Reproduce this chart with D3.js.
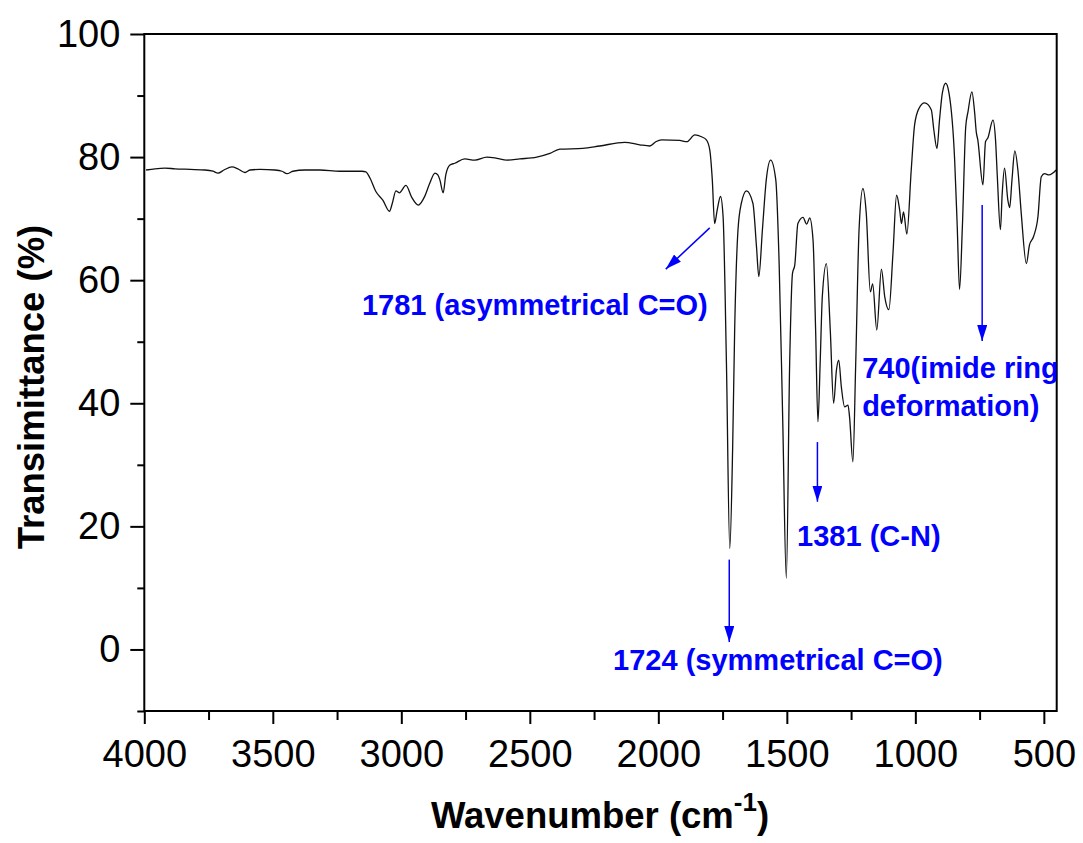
<!DOCTYPE html>
<html>
<head>
<meta charset="utf-8">
<script src="https://cdn.jsdelivr.net/npm/d3@7"></script>
<style>
  html, body { margin: 0; padding: 0; background: #fff; }
  svg { display: block; font-family: "Liberation Sans", Arial, sans-serif; }
</style>
</head>
<body>
<svg id="chart" width="1083" height="843"></svg>
<script>
// ---- data ----
const wavenumber = [3993,3958,3920,3881,3822,3764,3733,3713,3690,3659,3636,3608,3589,3550,3492,3464,3445,3422,3375,3317,3239,3181,3153,3138,3122,3099,3072,3046,3035,3021,3008,2982,2960,2934,2908,2889,2869,2858,2850,2837,2827,2811,2792,2753,2714,2667,2628,2590,2539,2473,2422,2383,2294,2228,2131,2072,2033,2010,1987,1917,1889,1858,1832,1813,1800,1790,1781,1771,1758,1748,1735,1722,1711,1703,1690,1677,1657,1632,1618,1609,1595,1580,1563,1543,1530,1516,1502,1489,1478,1469,1457,1437,1423,1411,1398,1388,1379,1370,1362,1346,1331,1318,1307,1298,1288,1275,1262,1256,1243,1232,1219,1204,1191,1175,1166,1150,1132,1119,1103,1087,1073,1061,1054,1046,1033,1016,1003,986,964,938,928,916,906,895,882,869,847,837,828,817,804,795,780,769,763,757,737,727,718,698,688,681,669,662,653,640,633,624,613,601,588,568,556,540,523,510,497,480,452];
const transmittance = [77.9,78.1,78.2,78.1,78.0,77.9,77.7,77.4,77.9,78.4,78.1,77.5,77.9,78.0,77.9,77.7,77.3,77.7,77.9,77.9,77.7,77.7,77.7,77.6,76.6,74.4,73.0,71.2,72.5,74.5,74.2,75.4,73.5,72.2,73.7,75.8,77.4,77.1,76.3,74.2,77.1,78.7,79.0,79.7,79.5,80.0,79.8,79.5,79.7,80.0,80.6,81.3,81.4,81.8,82.4,82.0,81.8,82.5,82.8,82.7,82.5,83.6,83.3,82.8,81.2,76.3,69.2,71.4,73.6,70.3,46.5,16.4,32.4,51.9,68.2,72.5,74.5,72.5,65.4,60.6,68.2,76.3,79.5,76.3,62.8,37.3,11.6,46.5,61.1,62.5,69.2,70.2,69.1,70.1,66.5,51.9,37.0,47.0,57.3,62.7,51.9,40.0,45.4,47.0,42.7,39.4,39.7,37.8,30.5,46.5,68.2,74.9,70.9,58.1,59.4,51.9,61.8,57.3,55.2,64.4,73.8,71.4,69.2,71.1,67.5,77.9,85.2,87.9,88.8,87.7,84.4,81.4,86.0,90.4,92.0,90.4,79.5,68.7,58.5,68.7,84.9,87.4,90.6,87.1,84.1,82.8,75.5,82.5,83.1,86.0,82.8,76.8,68.2,74.1,78.2,73.0,71.8,76.3,81.0,77.9,70.9,62.7,65.7,67.1,70.3,76.8,77.3,77.1,77.9];

const xMajorTicks = [4000,3500,3000,2500,2000,1500,1000,500];
const xMinorTicks = [3750,3250,2750,2250,1750,1250,750];
const yMajorTicks = [0,20,40,60,80,100];
const yMinorTicks = [-10,10,30,50,70,90];

const xTitle = "Wavenumber (cm";
const xTitleSup = "-1";
const yTitle = "Transimittance (%)";

// annotations: label lines, label anchor (wavenumber, T), arrow from/to (wavenumber, T)
const annoLabels = [
  ["1781 (asymmetrical C=O)"],
  ["1724 (symmetrical C=O)"],
  ["1381 (C-N)"],
  ["740(imide ring", "deformation)"]
];
const annoTextPos = [[3153, 54.3], [2176, -3.3], [1460, 16.8], [1207, 44.1]];
const annoArrowFrom = [[1800, 68.5], [1724, 14.6], [1381, 33.7], [740, 72.2]];
const annoArrowTo = [[1971, 61.8], [1724, 1.2], [1381, 24.0], [740, 50.1]];

// ---- layout ----
const svg = d3.select("#chart");
const L = 144.3, R = 1056.7, T = 34, B = 711;
const x = d3.scaleLinear().domain([4000, 450]).range([L, R]);
const y = d3.scaleLinear().domain([-10, 100]).range([B, T]);

const blue = "#0000ff";

// arrowhead
svg.append("defs").append("marker")
  .attr("id", "ah").attr("viewBox", "0 0 16 10")
  .attr("refX", 16).attr("refY", 5)
  .attr("markerWidth", 16).attr("markerHeight", 10)
  .attr("markerUnits", "userSpaceOnUse")
  .attr("orient", "auto")
  .append("path").attr("d", "M0,0 L16,5 L0,10 Z").attr("fill", blue);

// spectrum
const pts = wavenumber.map((w, i) => [w, transmittance[i]]);
svg.append("path")
  .datum(pts)
  .attr("fill", "none")
  .attr("stroke", "#111")
  .attr("stroke-width", 1.3)
  .attr("d", d3.line().x(d => x(d[0])).y(d => y(d[1])).curve(d3.curveMonotoneX));

// frame
svg.append("rect").attr("x", L).attr("y", T).attr("width", R - L).attr("height", B - T)
  .attr("fill", "none").attr("stroke", "#000").attr("stroke-width", 2);

function styleAxis(g) {
  g.select(".domain").remove();
  g.selectAll(".tick line").attr("stroke", "#000").attr("stroke-width", 2);
  g.selectAll(".tick text").attr("fill", "#000").attr("font-size", 38)
    .attr("font-family", "'Liberation Sans', Arial, sans-serif");
}

// x axis
svg.append("g").attr("transform", `translate(0,${B})`)
  .call(d3.axisBottom(x).tickValues(xMajorTicks).tickSize(13).tickPadding(16).tickFormat(d3.format("d")))
  .call(styleAxis);
svg.append("g").attr("transform", `translate(0,${B})`)
  .call(d3.axisBottom(x).tickValues(xMinorTicks).tickSize(9).tickFormat(""))
  .call(styleAxis);

// y axis
svg.append("g").attr("transform", `translate(${L},0)`)
  .call(d3.axisLeft(y).tickValues(yMajorTicks).tickSize(14).tickPadding(10).tickFormat(d3.format("d")))
  .call(styleAxis);
svg.append("g").attr("transform", `translate(${L},0)`)
  .call(d3.axisLeft(y).tickValues(yMinorTicks).tickSize(7).tickFormat(""))
  .call(styleAxis);

// axis titles
const xt = svg.append("text")
  .attr("x", 600).attr("y", 828)
  .attr("text-anchor", "middle")
  .attr("font-size", 36.5).attr("font-weight", "bold").attr("fill", "#000");
xt.append("tspan").text(xTitle);
xt.append("tspan").attr("font-size", 26).attr("dy", -17).text(xTitleSup);
xt.append("tspan").attr("dy", 17).text(")");

svg.append("text")
  .attr("transform", `translate(44,${387}) rotate(-90)`)
  .attr("text-anchor", "middle")
  .attr("font-size", 36.5).attr("font-weight", "bold").attr("fill", "#000")
  .text(yTitle);

// annotations
annoLabels.forEach((lines, i) => {
  const t = svg.append("text")
    .attr("x", x(annoTextPos[i][0])).attr("y", y(annoTextPos[i][1]))
    .attr("font-size", 29).attr("font-weight", "bold").attr("fill", blue);
  lines.forEach((s, j) => {
    t.append("tspan").attr("x", x(annoTextPos[i][0])).attr("dy", j === 0 ? 0 : 38).text(s);
  });
  svg.append("line")
    .attr("x1", x(annoArrowFrom[i][0])).attr("y1", y(annoArrowFrom[i][1]))
    .attr("x2", x(annoArrowTo[i][0])).attr("y2", y(annoArrowTo[i][1]))
    .attr("stroke", blue).attr("stroke-width", 1.5)
    .attr("marker-end", "url(#ah)");
});
</script>
</body>
</html>
